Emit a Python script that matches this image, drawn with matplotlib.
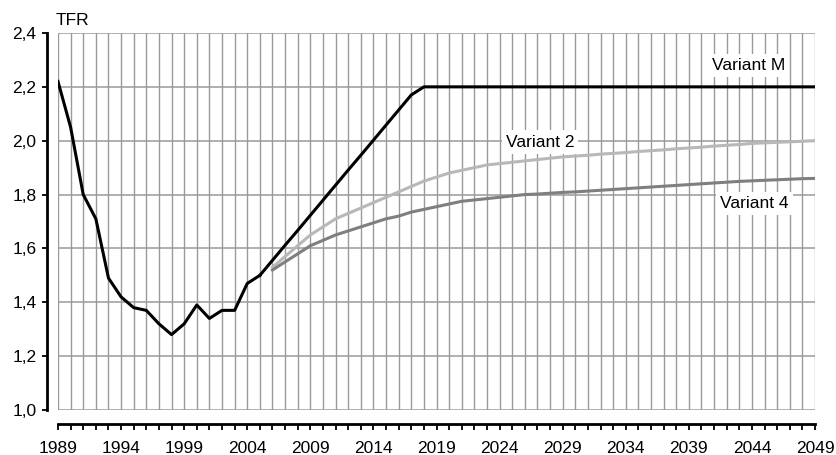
import matplotlib
matplotlib.use("Agg")
import matplotlib.pyplot as plt
from matplotlib.ticker import FuncFormatter, MultipleLocator
import numpy as np

plt.rcParams['font.family'] = ['Liberation Sans', 'DejaVu Sans']

# --- data ---
years_hist = list(range(1989, 2006))
tfr_hist = [2.22, 2.05, 1.80, 1.71, 1.49, 1.42, 1.38, 1.37, 1.32, 1.28,
            1.32, 1.39, 1.34, 1.37, 1.37, 1.47, 1.50]

years_m = list(range(2005, 2050))
tfr_m = [1.50, 1.556, 1.612, 1.667, 1.723, 1.779, 1.835, 1.891, 1.946, 2.002,
         2.058, 2.114, 2.17, 2.20] + [2.20] * 31

years_var = list(range(2006, 2050))
tfr_v2 = [1.53, 1.57, 1.61, 1.65, 1.68, 1.71, 1.73, 1.75, 1.77, 1.79,
          1.81, 1.83, 1.85, 1.865, 1.88, 1.89, 1.90, 1.91, 1.915, 1.92,
          1.925, 1.93, 1.935, 1.94, 1.943, 1.946, 1.95, 1.953, 1.956, 1.96,
          1.963, 1.966, 1.97, 1.973, 1.976, 1.98, 1.983, 1.986, 1.99, 1.992,
          1.994, 1.996, 1.998, 2.00]
tfr_v4 = [1.52, 1.55, 1.58, 1.61, 1.63, 1.65, 1.665, 1.68, 1.695, 1.71,
          1.72, 1.735, 1.745, 1.755, 1.765, 1.775, 1.78, 1.785, 1.79, 1.795,
          1.80, 1.802, 1.805, 1.808, 1.81, 1.813, 1.816, 1.819, 1.822, 1.825,
          1.828, 1.831, 1.834, 1.837, 1.84, 1.843, 1.846, 1.849, 1.851, 1.853,
          1.855, 1.857, 1.859, 1.86]

label_years = list(range(1989, 2050, 5))

# --- figure ---
W, H = 837, 455
fig = plt.figure(figsize=(W / 100, H / 100), dpi=100)
ax = fig.add_axes([58 / W, 1 - 410 / H, (815 - 58) / W, (410 - 33) / H])

ax.set_xlim(1989, 2049)
ax.set_ylim(1.0, 2.4)

# grid
ax.yaxis.set_major_locator(MultipleLocator(0.2))
ax.set_xticks(label_years)
ax.set_xticks(range(1989, 2050), minor=True)
for yr in range(1989, 2050):
    ax.axvline(yr, color='#9a9a9a', lw=1.0, zorder=0)
for v in np.arange(1.0, 2.41, 0.2):
    ax.axhline(v, color='#9a9a9a', lw=1.1, zorder=0)

# lines
ax.plot(years_var, tfr_v2, color='#b8b8b8', lw=2.2, zorder=3)
ax.plot(years_var, tfr_v4, color='#7f7f7f', lw=2.2, zorder=3)
ax.plot(years_hist, tfr_hist, color='black', lw=2.2, zorder=4)
ax.plot(years_m, tfr_m, color='black', lw=2.2, zorder=4)

# line labels
box = dict(facecolor='white', edgecolor='none', pad=3)
ax.text(2043.7, 2.28, "Variant M", fontsize=12.5, ha='center', va='center',
        bbox=box, zorder=2)
ax.text(2027.2, 1.995, "Variant 2", fontsize=12.5, ha='center', va='center',
        bbox=box, zorder=2)
ax.text(2044.2, 1.768, "Variant 4", fontsize=12.5, ha='center', va='center',
        bbox=box, zorder=2)

# axes styling
for s in ['top', 'right']:
    ax.spines[s].set_visible(False)
ax.spines['left'].set_position(('outward', 8))
ax.spines['bottom'].set_position(('outward', 10))
ax.spines['left'].set_linewidth(2.0)
ax.spines['bottom'].set_linewidth(2.0)

ax.yaxis.set_major_formatter(FuncFormatter(lambda v, p: f"{v:.1f}".replace('.', ',')))
ax.tick_params(axis='y', which='major', length=3.5, width=1.3, pad=4,
               labelsize=12.5, direction='out')
ax.tick_params(axis='x', which='both', length=4.5, width=1.3, direction='out')
ax.tick_params(axis='x', which='major', pad=7.5, labelsize=12.5)

ax.text(-0.003, 1.034, "TFR", transform=ax.transAxes, fontsize=12.5,
        ha='left', va='center')

fig.savefig("out.png", dpi=100)
